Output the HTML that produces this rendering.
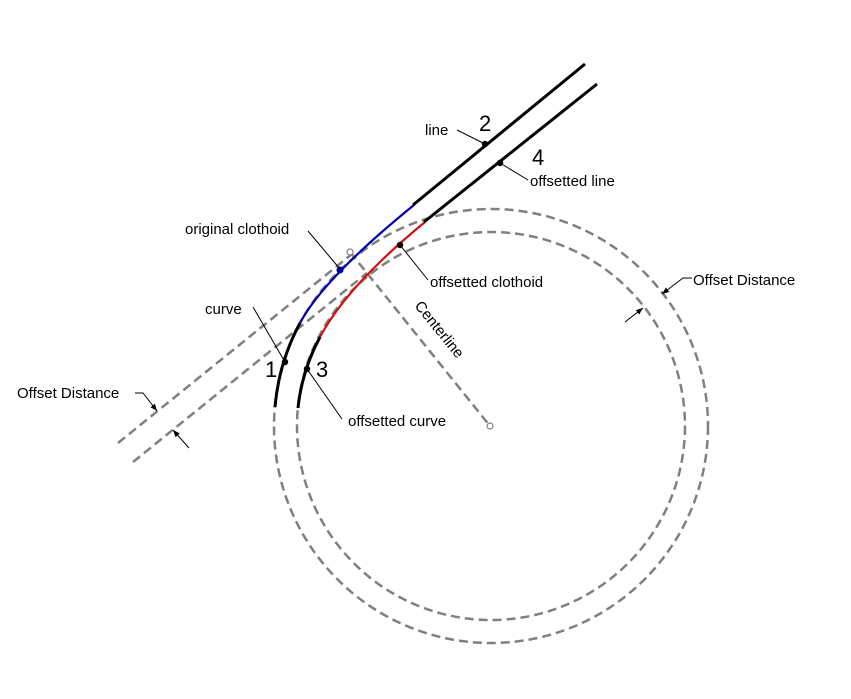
<!DOCTYPE html>
<html><head><meta charset="utf-8"><style>
html,body{margin:0;padding:0;background:#fff}
svg{display:block}
text{font-family:"Liberation Sans",Arial,sans-serif;fill:#000}
</style></head><body>
<svg width="851" height="699" viewBox="0 0 851 699" xmlns="http://www.w3.org/2000/svg">
<defs>
<marker id="ar" viewBox="0 0 10 10" refX="10" refY="5" markerWidth="9" markerHeight="7" orient="auto" markerUnits="userSpaceOnUse">
<path d="M0,1 L10,5 L0,9 z" fill="#000"/></marker>
</defs>
<g fill="none" stroke="#808080" stroke-width="2.5" stroke-dasharray="9,5">
<circle cx="491" cy="426" r="217"/>
<circle cx="491" cy="426" r="194"/>
<line x1="118" y1="443" x2="352" y2="254"/>
<line x1="133" y1="462" x2="367" y2="273"/>
<line x1="350" y1="252" x2="490" y2="426"/>
</g>
<g fill="#fff" stroke="#808080" stroke-width="1.2">
<circle cx="350" cy="252" r="3"/>
<circle cx="490" cy="426" r="3"/>
</g>
<g fill="none" stroke-width="3" stroke-linecap="butt">
<path d="M275,407 A216,216 0 0 1 300,323" stroke="#000"/>
<path d="M298,408 A193,193 0 0 1 320,337" stroke="#000"/>
<path d="M300,323 Q324,278 414,205" stroke="#0000b0" stroke-width="2.2"/>
<path d="M320,337 Q347,286 425,222" stroke="#d01010" stroke-width="2.2"/>
<line x1="413" y1="205" x2="585" y2="64" stroke="#000"/>
<line x1="424" y1="222" x2="597" y2="84" stroke="#000"/>
</g>
<g fill="#000">
<circle cx="285" cy="362" r="3.2"/>
<circle cx="307" cy="369" r="3.2"/>
<circle cx="485" cy="144" r="3.2"/>
<circle cx="500" cy="163" r="3.2"/>
<circle cx="340" cy="270" r="3.5" fill="#0000a0"/>
<circle cx="400" cy="245" r="3.2"/>
</g>
<g stroke="#000" stroke-width="1" fill="none">
<line x1="457" y1="130" x2="485" y2="144"/>
<line x1="500" y1="163" x2="528" y2="180"/>
<line x1="308" y1="231" x2="340" y2="269"/>
<line x1="400" y1="245" x2="428" y2="280"/>
<line x1="253" y1="307" x2="285" y2="362"/>
<line x1="307" y1="369" x2="342" y2="419"/>
<polyline points="135,393 143,393 157,411" marker-end="url(#ar)"/>
<line x1="189" y1="448" x2="173" y2="430" marker-end="url(#ar)"/>
<polyline points="692,278 683,278 662,294" marker-end="url(#ar)"/>
<line x1="625" y1="322" x2="643" y2="308" marker-end="url(#ar)"/>
</g>
<g font-size="15">
<text x="425" y="135">line</text>
<text x="530" y="186">offsetted line</text>
<text x="185" y="234">original clothoid</text>
<text x="430" y="287">offsetted clothoid</text>
<text x="205" y="314">curve</text>
<text x="348" y="426">offsetted curve</text>
<text x="17" y="398">Offset Distance</text>
<text x="693" y="285">Offset Distance</text>
<text x="0" y="0" transform="translate(414,306) rotate(51)">Centerline</text>
</g>
<g font-size="22">
<text x="479" y="131">2</text>
<text x="532" y="165">4</text>
<text x="265" y="377">1</text>
<text x="316" y="377">3</text>
</g>
</svg>
</body></html>
